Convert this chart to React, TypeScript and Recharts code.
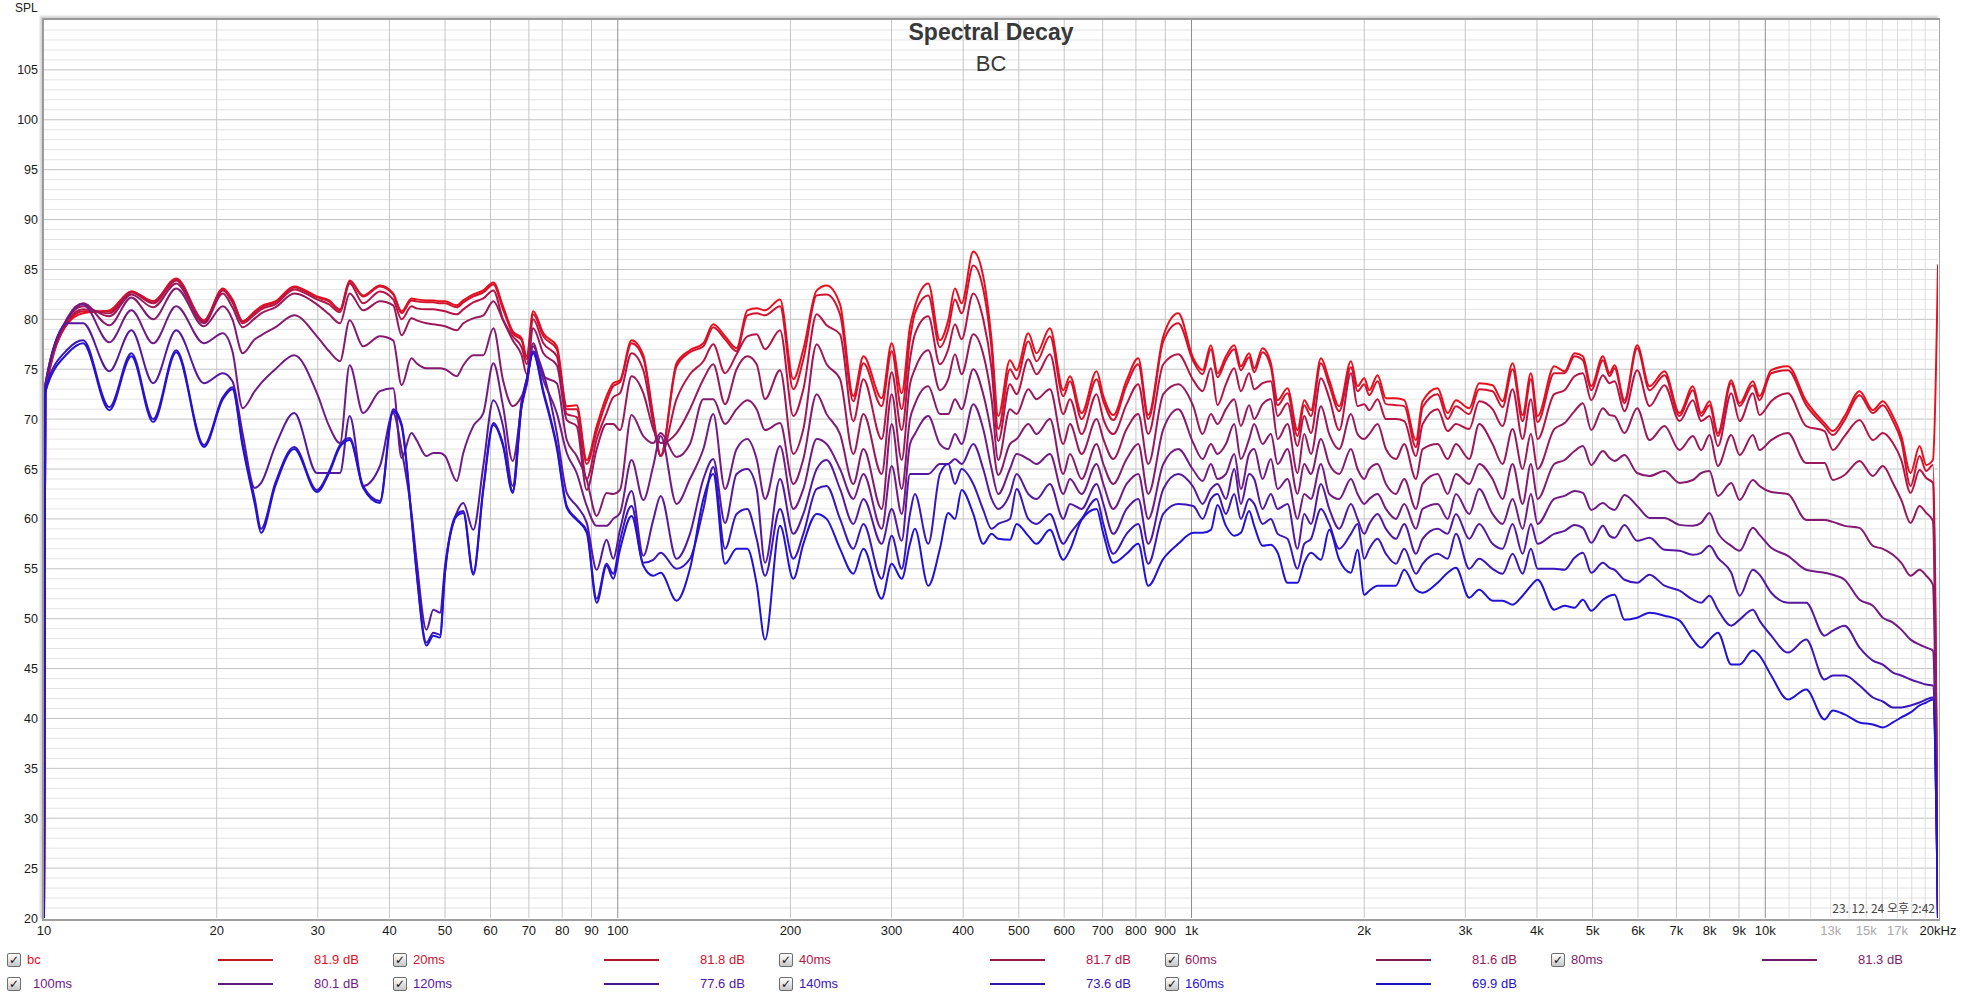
import React from 'react';
import { LineChart, Line, XAxis, YAxis, CartesianGrid } from 'recharts';

const W = 1962;
const H = 1001;
const SANS = "'Liberation Sans', Arial, sans-serif";
const NARROW = "'Liberation Sans Narrow', 'Liberation Sans', Arial, sans-serif";

// frequency points (Hz)
const FREQ = [
  10, 10.05, 11, 11.7, 13, 14.2, 15.5, 17, 19, 20.5,
  21.3, 22.2, 23.3, 23.9, 25.3, 27.3, 29.9, 31.4, 32.8, 34.1,
  36, 38.5, 40.6, 42, 43.7, 44.6, 46.4, 47.7, 49, 50,
  52.4, 53.8, 56, 58.3, 60.7, 63.1, 65.6, 68, 69.4, 71.2,
  74.2, 78.3, 81.5, 84.8, 88.3, 91.9, 95.6, 98.2, 100.9, 105.7,
  110.8, 115.3, 118.8, 126.6, 133.6, 141, 146.7, 153.8, 161.1, 168.2,
  174.6, 180.6, 191.8, 202.3, 210.6, 222.2, 231.2, 244, 257.4, 268,
  288.4, 300.2, 312.5, 323.1, 329.5, 347.7, 364.3, 376.7, 387, 397.5,
  416.5, 433.5, 448.3, 460.4, 482.5, 495.6, 519.4, 537, 566.5, 597.7,
  614, 643.3, 683.2, 702, 730.4, 770.7, 807.6, 840.6, 892.9, 948.2,
  1007, 1045.5, 1081, 1110, 1148, 1187, 1219, 1260, 1286, 1330,
  1375, 1413, 1470, 1530, 1572, 1615, 1681, 1738, 1809, 1896,
  1947, 2000, 2041, 2110, 2182, 2271, 2348, 2461, 2528, 2685,
  2795, 2890, 3048, 3172, 3347, 3484, 3627, 3776, 3904, 4010,
  4287, 4469, 4651, 4810, 4974, 5212, 5354, 5462, 5684, 5980,
  6284, 6673, 7089, 7478, 7732, 7995, 8268, 8723, 9021, 9514,
  9772, 10240, 10950, 11783, 12683, 13114, 13746, 14598, 15400, 16030,
  16690, 17260, 17915, 18575, 19077, 19596, 20000,
];

const BC = [
  20, 72.5, 79.6, 80.6, 80.9, 82.8, 81.8, 84.1, 79.9, 83.1,
  82.0, 79.8, 80.8, 81.3, 81.8, 83.3, 82.3, 81.9, 81.0, 83.9,
  82.4, 83.4, 82.6, 80.8, 82.1, 82.0, 81.9, 81.9, 81.8, 81.8,
  81.4, 81.9, 82.5, 82.9, 83.7, 81.3, 78.8, 78.1, 76.3, 80.8,
  78.6, 77.3, 71.3, 71.4, 65.9, 69.3, 72.3, 73.6, 73.9, 77.9,
  76.4, 70.3, 66.3, 75.6, 76.9, 77.6, 79.5, 78.3, 77.1, 80.9,
  81.1, 80.9, 82.0, 74.0, 77.0, 82.9, 83.4, 81.5, 72.3, 76.3,
  72.1, 77.6, 72.6, 79.3, 81.3, 83.6, 77.9, 79.9, 83.1, 81.6,
  86.8, 84.3, 77.9, 70.3, 75.9, 74.9, 78.6, 76.6, 79.1, 72.9,
  74.3, 70.6, 74.8, 72.3, 70.4, 73.9, 76.1, 70.4, 78.3, 80.6,
  76.1, 74.9, 77.4, 74.6, 76.3, 77.4, 75.3, 76.6, 75.1, 77.1,
  75.6, 71.9, 73.1, 68.9, 71.9, 70.9, 76.1, 73.9, 71.3, 75.8,
  73.3, 74.1, 72.9, 74.4, 72.1, 72.1, 71.9, 67.9, 71.8, 73.1,
  70.6, 71.9, 71.1, 73.6, 73.4, 71.8, 75.6, 70.4, 74.6, 70.3,
  75.3, 74.8, 76.6, 76.3, 73.3, 76.3, 74.6, 75.4, 71.9, 77.4,
  73.3, 74.8, 70.6, 73.3, 70.6, 71.8, 68.6, 73.9, 71.6, 73.8,
  72.3, 74.9, 75.3, 71.8, 69.6, 68.8, 70.3, 72.8, 70.9, 71.8,
  70.3, 68.3, 64.6, 67.3, 65.4, 65.9, 85.5,
];

const MS20 = [
  20, 72.6, 79.7, 80.8, 80.8, 82.8, 81.8, 84.0, 79.8, 83.0,
  81.9, 79.8, 80.7, 81.2, 81.7, 83.2, 82.2, 81.8, 80.9, 83.8,
  82.3, 83.3, 82.5, 80.6, 81.9, 81.8, 81.7, 81.7, 81.6, 81.6,
  81.2, 81.7, 82.3, 82.7, 83.5, 81.0, 78.6, 77.9, 76.0, 80.5,
  78.3, 77.0, 71.0, 71.0, 65.5, 68.8, 71.8, 73.3, 73.7, 77.6,
  76.1, 70.1, 66.3, 75.3, 76.7, 77.3, 79.2, 78.0, 76.8, 80.4,
  80.6, 80.4, 81.3, 73.0, 76.0, 82.4, 82.5, 80.5, 71.8, 75.6,
  71.3, 76.8, 71.0, 78.0, 80.6, 82.4, 77.2, 79.0, 82.0, 80.6,
  85.4, 83.0, 77.0, 69.0, 75.0, 74.0, 77.8, 75.8, 78.3, 72.3,
  73.8, 70.0, 74.0, 71.8, 69.9, 73.4, 75.5, 70.0, 77.8, 79.6,
  75.8, 74.5, 77.0, 74.2, 75.9, 77.0, 74.9, 76.2, 74.7, 76.7,
  75.2, 71.4, 72.6, 68.3, 71.4, 70.3, 75.6, 73.4, 70.8, 75.2,
  72.8, 73.5, 72.4, 73.8, 71.5, 71.4, 71.3, 67.2, 71.2, 72.5,
  70.0, 71.3, 70.5, 73.0, 72.8, 71.2, 75.0, 69.8, 74.0, 69.7,
  74.6, 74.6, 76.3, 75.9, 72.9, 75.9, 74.3, 75.1, 71.6, 77.1,
  72.9, 74.4, 70.3, 72.9, 70.3, 71.4, 68.3, 73.6, 71.3, 73.4,
  71.9, 74.6, 74.9, 71.4, 69.3, 68.4, 69.9, 72.4, 70.6, 71.4,
  69.8, 67.8, 63.3, 66.3, 64.8, 65.4, 20,
];

const MS40 = [
  20, 72.8, 79.9, 81.0, 80.6, 82.7, 81.6, 83.9, 79.7, 82.9,
  81.7, 79.6, 80.5, 81.0, 81.5, 83.0, 82.0, 81.5, 80.7, 83.6,
  81.6, 82.8, 82.0, 80.0, 81.3, 81.1, 81.0, 81.0, 80.9, 80.8,
  80.5, 81.0, 81.7, 82.1, 82.9, 80.0, 78.3, 77.2, 75.5, 80.0,
  77.6, 76.3, 70.5, 70.2, 64.0, 68.0, 70.6, 72.2, 72.6, 76.6,
  74.9, 69.6, 66.3, 72.0, 74.5, 75.8, 77.5, 74.6, 76.5, 78.3,
  78.5, 77.0, 78.9, 70.3, 73.0, 80.5, 79.4, 78.5, 69.8, 74.0,
  68.0, 74.7, 68.9, 76.0, 78.5, 80.3, 75.5, 77.0, 79.5, 78.0,
  82.6, 80.0, 75.0, 67.8, 73.5, 72.5, 76.0, 74.5, 76.5, 70.5,
  72.0, 68.5, 72.5, 70.0, 68.5, 71.5, 73.5, 68.5, 75.5, 76.5,
  73.9, 72.8, 75.1, 71.4, 73.5, 75.1, 72.8, 74.6, 73.0, 73.6,
  73.8, 70.3, 71.6, 67.3, 70.3, 68.6, 74.1, 72.1, 68.9, 74.6,
  71.3, 71.5, 70.9, 72.0, 70.0, 70.0, 69.8, 66.3, 69.5, 71.0,
  68.8, 69.5, 69.0, 71.8, 71.0, 69.3, 73.0, 68.0, 72.0, 68.0,
  72.5, 72.9, 74.3, 74.6, 71.9, 74.4, 73.6, 73.8, 70.8, 74.9,
  71.3, 73.4, 69.8, 71.9, 69.8, 70.3, 67.3, 72.6, 69.8, 72.6,
  70.4, 71.8, 72.6, 69.3, 68.8, 66.9, 68.3, 69.9, 67.9, 68.6,
  67.6, 65.9, 62.6, 64.9, 64.1, 63.6, 20,
];

const MS60 = [
  20, 73.0, 80.1, 81.3, 80.3, 82.5, 81.2, 83.6, 79.6, 82.6,
  81.2, 79.2, 80.1, 80.6, 81.2, 82.6, 81.5, 80.5, 79.6, 82.6,
  80.9, 81.8, 81.4, 78.4, 80.1, 79.9, 79.6, 79.5, 79.4, 79.3,
  78.9, 79.6, 80.1, 80.4, 81.8, 79.9, 77.9, 76.4, 74.5, 79.1,
  76.6, 75.4, 69.9, 69.3, 62.9, 67.0, 69.5, 69.5, 68.9, 74.3,
  72.6, 69.0, 67.6, 68.6, 71.0, 74.0, 75.5, 71.5, 75.0, 76.3,
  75.5, 72.0, 74.9, 66.5, 69.0, 77.5, 75.5, 74.0, 66.5, 70.5,
  64.5, 72.5, 65.9, 73.5, 75.0, 76.9, 72.9, 74.0, 76.5, 74.5,
  78.5, 76.5, 72.0, 65.9, 71.0, 70.5, 73.0, 72.0, 73.0, 67.5,
  69.5, 66.5, 70.0, 68.0, 66.0, 69.0, 70.5, 65.5, 72.5, 73.5,
  71.3, 68.5, 70.5, 69.5, 71.0, 72.0, 69.3, 71.4, 70.0, 71.5,
  72.0, 68.0, 69.5, 64.6, 68.5, 66.5, 71.3, 68.5, 67.0, 70.5,
  68.5, 68.0, 68.5, 69.5, 67.0, 66.0, 67.5, 64.0, 67.0, 67.5,
  66.0, 67.5, 66.0, 69.5, 67.5, 65.5, 69.0, 65.0, 68.5, 65.0,
  69.0, 69.6, 70.8, 71.6, 68.9, 71.1, 70.4, 70.3, 68.6, 71.1,
  67.9, 69.3, 66.9, 68.3, 66.9, 68.4, 65.3, 68.4, 66.4, 68.4,
  66.9, 67.9, 68.6, 65.6, 65.6, 63.9, 64.4, 65.8, 64.3, 65.3,
  63.6, 61.9, 59.6, 61.3, 60.6, 59.8, 20,
];

const MS80 = [
  20, 73.2, 80.2, 81.6, 79.4, 82.2, 80.0, 83.1, 79.3, 81.3,
  80.0, 76.6, 78.0, 78.4, 79.2, 80.4, 78.3, 76.8, 75.8, 79.9,
  77.3, 78.3, 77.9, 73.4, 76.1, 75.6, 75.1, 75.1, 75.1, 75.0,
  74.3, 75.4, 76.4, 76.4, 79.1, 73.9, 71.3, 72.3, 73.5, 77.6,
  74.3, 73.6, 67.9, 66.3, 63.9, 60.3, 62.6, 62.5, 62.9, 70.4,
  68.3, 67.6, 68.6, 66.2, 67.5, 72.0, 72.0, 69.5, 71.0, 71.9,
  71.0, 68.9, 69.6, 63.5, 66.0, 72.5, 70.5, 68.5, 63.5, 67.0,
  61.0, 69.5, 63.0, 70.0, 71.5, 73.3, 70.5, 70.5, 72.0, 71.0,
  75.0, 72.5, 68.5, 64.4, 67.5, 68.0, 69.5, 68.5, 70.0, 64.5,
  66.5, 64.0, 67.5, 65.5, 63.5, 66.0, 67.5, 62.5, 69.0, 71.0,
  67.6, 66.0, 67.5, 66.5, 67.5, 69.5, 66.0, 68.0, 69.5, 67.5,
  68.5, 65.5, 67.0, 62.5, 65.5, 64.5, 68.0, 65.5, 64.5, 67.0,
  65.0, 64.0, 65.0, 65.5, 63.5, 62.5, 64.0, 61.0, 63.5, 64.5,
  62.5, 64.5, 63.5, 65.5, 64.0, 62.0, 65.5, 61.5, 65.5, 62.0,
  65.5, 65.9, 66.8, 67.3, 65.4, 66.8, 66.1, 65.8, 66.4, 64.6,
  64.3, 64.8, 63.6, 63.9, 64.6, 64.8, 62.3, 63.6, 61.9, 63.9,
  63.3, 62.7, 62.5, 59.9, 59.9, 59.7, 59.3, 59.1, 57.3, 57.0,
  56.4, 55.6, 54.3, 54.9, 54.3, 53.4, 20,
];

const MS100 = [
  20, 73.4, 80.1, 81.5, 77.7, 80.9, 77.6, 81.3, 77.6, 78.6,
  76.8, 71.1, 72.8, 73.6, 75.0, 76.4, 72.6, 69.3, 67.6, 75.4,
  70.6, 72.8, 73.1, 66.1, 68.6, 67.9, 66.3, 66.6, 66.6, 66.3,
  63.8, 66.6, 69.3, 70.6, 75.6, 71.3, 65.8, 71.3, 73.5, 77.3,
  73.9, 70.6, 66.6, 64.6, 61.3, 59.3, 59.3, 60.0, 60.6, 65.9,
  61.9, 65.3, 68.3, 61.5, 64.0, 67.0, 70.5, 63.0, 67.0, 68.0,
  66.0, 62.0, 67.3, 61.0, 63.0, 68.0, 67.5, 65.0, 62.0, 64.5,
  59.0, 65.3, 60.5, 67.5, 68.5, 70.3, 67.5, 67.0, 68.5, 67.5,
  71.5, 69.0, 65.0, 62.5, 65.0, 66.5, 66.0, 65.5, 66.5, 62.5,
  64.0, 62.5, 65.5, 63.5, 61.0, 63.5, 64.5, 60.0, 65.5, 67.0,
  64.9, 63.8, 65.5, 64.0, 64.5, 66.5, 63.0, 66.5, 67.0, 64.0,
  66.0, 63.0, 64.0, 60.0, 62.5, 62.0, 65.5, 62.5, 62.0, 64.0,
  62.5, 61.5, 62.0, 62.5, 61.0, 60.0, 61.5, 59.0, 61.0, 61.5,
  60.0, 62.5, 60.5, 63.0, 60.5, 59.5, 62.0, 59.0, 62.5, 59.5,
  62.0, 62.3, 62.8, 62.6, 60.9, 61.6, 61.1, 60.9, 62.4, 61.3,
  60.1, 60.1, 59.4, 59.3, 59.6, 60.6, 58.6, 57.3, 56.8, 59.1,
  58.4, 57.1, 56.3, 54.9, 54.6, 54.4, 53.9, 51.9, 51.3, 50.1,
  49.6, 48.9, 47.9, 47.4, 47.1, 46.8, 20,
];

const MS120 = [
  20, 73.5, 79.6, 79.6, 74.8, 78.9, 73.6, 78.9, 73.6, 74.6,
  73.8, 68.5, 63.1, 63.6, 67.3, 70.6, 64.6, 64.6, 64.6, 70.3,
  63.3, 65.3, 70.6, 66.9, 60.6, 55.9, 48.9, 50.9, 50.6, 55.3,
  60.6, 61.6, 58.9, 65.3, 71.9, 69.3, 63.3, 71.9, 74.0, 76.8,
  74.6, 68.6, 62.6, 61.3, 59.6, 54.9, 57.9, 56.0, 58.9, 62.8,
  56.3, 59.9, 62.3, 56.0, 58.5, 64.0, 66.0, 59.6, 64.5, 65.0,
  63.0, 55.6, 64.0, 58.5, 60.5, 65.0, 65.9, 63.0, 59.5, 62.0,
  57.5, 61.0, 57.8, 64.5, 64.5, 64.5, 65.5, 65.5, 66.0, 65.5,
  67.5, 65.0, 62.0, 61.0, 62.5, 64.5, 62.5, 62.0, 63.5, 60.0,
  61.5, 61.0, 63.5, 61.5, 58.5, 61.0, 62.0, 57.5, 63.0, 64.5,
  63.2, 61.5, 63.0, 63.5, 62.0, 65.0, 61.5, 64.5, 64.0, 61.0,
  62.5, 61.0, 61.5, 57.0, 60.5, 59.5, 63.5, 61.0, 59.0, 61.5,
  60.0, 58.5, 59.5, 60.5, 59.0, 58.0, 59.5, 56.5, 58.0, 59.0,
  58.5, 60.5, 58.0, 59.5, 57.5, 57.0, 59.5, 56.5, 59.5, 57.5,
  58.5, 58.8, 59.4, 59.1, 57.6, 59.3, 58.3, 58.1, 59.4, 57.8,
  58.1, 56.9, 56.8, 56.4, 56.6, 57.3, 56.1, 54.6, 52.3, 54.9,
  54.4, 52.6, 51.6, 51.6, 48.3, 48.8, 49.3, 47.1, 45.8, 45.4,
  44.6, 44.3, 43.9, 43.6, 43.4, 43.3, 20,
];

const MS140 = [
  20, 73.0, 77.0, 77.9, 71.2, 76.6, 70.0, 76.9, 67.4, 72.2,
  73.2, 67.5, 62.0, 59.0, 63.6, 67.2, 62.9, 64.8, 67.4, 68.1,
  63.3, 61.8, 71.0, 69.5, 60.3, 54.8, 47.6, 48.6, 48.4, 54.8,
  60.5, 60.8, 54.6, 63.1, 69.6, 67.5, 62.8, 71.5, 74.0, 76.7,
  72.8, 67.3, 61.3, 60.0, 58.8, 52.0, 55.5, 54.5, 57.8, 61.3,
  55.6, 55.9, 56.6, 55.0, 56.0, 61.0, 65.2, 57.0, 60.5, 61.0,
  58.0, 54.3, 61.0, 56.0, 58.5, 63.0, 63.3, 60.0, 57.0, 59.5,
  54.0, 58.3, 55.0, 60.5, 62.5, 57.5, 64.5, 65.5, 63.5, 65.0,
  63.5, 60.9, 59.0, 59.5, 60.0, 63.0, 60.0, 59.5, 60.5, 57.5,
  58.5, 60.0, 62.0, 59.5, 56.5, 58.5, 59.5, 55.5, 60.5, 61.5,
  61.3, 60.0, 62.0, 62.5, 60.5, 62.5, 60.0, 62.0, 61.5, 59.5,
  60.0, 58.5, 58.0, 55.0, 57.5, 58.0, 61.0, 59.5, 57.0, 58.5,
  59.5, 56.0, 57.0, 58.0, 56.5, 55.5, 57.0, 54.5, 55.5, 56.5,
  56.0, 58.5, 55.0, 56.0, 55.0, 54.5, 56.5, 54.5, 57.0, 55.0,
  55.0, 54.9, 56.1, 56.6, 54.6, 55.6, 55.1, 54.9, 53.9, 53.6,
  54.4, 53.3, 52.8, 51.9, 51.6, 52.3, 50.9, 49.3, 49.9, 50.9,
  49.8, 48.3, 46.6, 47.9, 43.9, 44.3, 44.3, 43.3, 42.1, 41.7,
  41.1, 41.1, 41.3, 41.6, 41.9, 42.1, 20,
];

const MS160 = [
  20, 72.7, 76.6, 77.6, 70.9, 76.3, 69.7, 76.7, 67.2, 72.0,
  73.0, 67.2, 61.5, 58.6, 63.3, 67.0, 62.7, 64.6, 67.2, 67.9,
  63.1, 61.6, 70.8, 69.3, 60.1, 54.6, 47.3, 48.3, 48.1, 54.6,
  60.3, 60.6, 54.4, 62.9, 69.4, 67.3, 62.6, 71.3, 73.8, 76.6,
  72.6, 67.1, 61.1, 59.9, 58.6, 51.6, 55.3, 54.0, 56.9, 60.3,
  55.3, 54.3, 54.6, 51.8, 55.0, 62.0, 64.5, 55.5, 57.0, 57.0,
  53.5, 47.9, 59.3, 54.0, 57.5, 60.5, 60.0, 57.0, 54.5, 57.0,
  52.0, 55.5, 54.0, 57.5, 59.0, 53.3, 57.0, 60.6, 60.0, 62.9,
  60.5, 57.5, 58.5, 58.0, 57.9, 59.5, 58.3, 57.5, 58.9, 55.9,
  56.9, 59.9, 61.0, 58.5, 55.6, 56.5, 57.5, 53.3, 56.0, 57.5,
  58.6, 58.6, 58.9, 61.4, 59.3, 58.3, 58.6, 60.8, 59.3, 57.3,
  57.4, 56.6, 53.6, 53.6, 55.6, 56.6, 55.9, 58.9, 55.9, 54.6,
  56.9, 52.4, 52.8, 53.3, 53.3, 53.3, 54.9, 52.9, 52.6, 53.6,
  54.6, 55.1, 52.1, 52.9, 51.8, 51.8, 51.4, 52.3, 53.3, 53.9,
  50.9, 51.3, 51.1, 51.9, 50.8, 51.9, 52.3, 52.4, 49.9, 50.1,
  50.6, 50.3, 49.8, 47.9, 47.1, 47.9, 48.6, 45.4, 45.4, 46.8,
  46.3, 44.3, 41.9, 42.9, 39.9, 40.8, 40.4, 39.6, 39.4, 39.1,
  39.6, 40.1, 40.6, 41.3, 41.6, 41.9, 20,
];

const SERIES = [
  { key: 'bc', label: 'bc', level: '81.9 dB', color: '#e8101c', legendLine: '#bc1a22', values: BC },
  { key: 'ms20', label: '20ms', level: '81.8 dB', color: '#d2122e', legendLine: '#b0162e', values: MS20 },
  { key: 'ms40', label: '40ms', level: '81.7 dB', color: '#b61446', legendLine: '#981842', values: MS40 },
  { key: 'ms60', label: '60ms', level: '81.6 dB', color: '#9a185c', legendLine: '#801a56', values: MS60 },
  { key: 'ms80', label: '80ms', level: '81.3 dB', color: '#861a70', legendLine: '#701a68', values: MS80 },
  { key: 'ms100', label: '100ms', level: '80.1 dB', color: '#721a86', legendLine: '#5c1a7a', values: MS100 },
  { key: 'ms120', label: '120ms', level: '77.6 dB', color: '#5618a0', legendLine: '#461890', values: MS120 },
  { key: 'ms140', label: '140ms', level: '73.6 dB', color: '#3a16bc', legendLine: '#3016a8', values: MS140 },
  { key: 'ms160', label: '160ms', level: '69.9 dB', color: '#2212d8', legendLine: '#1c12c0', values: MS160 },
];

const X_TICKS = [
  10, 20, 30, 40, 50, 60, 70, 80, 90, 100, 200, 300, 400, 500, 600, 700, 800, 900,
  1000, 2000, 3000, 4000, 5000, 6000, 7000, 8000, 9000, 10000, 13000, 15000, 17000, 20000,
];
const X_LABELS = [
  '10', '20', '30', '40', '50', '60', '70', '80', '90', '100', '200', '300', '400', '500',
  '600', '700', '800', '900', '1k', '2k', '3k', '4k', '5k', '6k', '7k', '8k', '9k', '10k',
  '13k', '15k', '17k', '20kHz',
];
const X_FAINT = [13000, 15000, 17000];
const Y_TICKS = [20, 25, 30, 35, 40, 45, 50, 55, 60, 65, 70, 75, 80, 85, 90, 95, 100, 105];

// grid positions
const GRID_X = [20, 30, 40, 50, 60, 70, 80, 90, 200, 300, 400, 500, 600, 700, 800, 900,
  2000, 3000, 4000, 5000, 6000, 7000, 8000, 9000];
const GRID_X_DECADE = [100, 1000, 10000];
const GRID_X_FINE = [11000, 12000, 13000, 14000, 15000, 16000, 17000, 18000, 19000];
const GRID_Y_MAJOR = [25, 30, 35, 40, 45, 50, 55, 60, 65, 70, 75, 80, 85, 90, 95, 100, 105];
const GRID_Y_MINOR: number[] = [];
for (let v = 21; v < 110; v++) if (v % 5 !== 0) GRID_Y_MINOR.push(v);

const PLOT = { left: 44, top: 20, right: 1938, bottom: 918 };

const XTick = (props: any) => {
  const { x, y, payload } = props;
  const i = X_TICKS.indexOf(payload.value);
  const faint = X_FAINT.includes(payload.value);
  return (
    <text x={x} y={y} dy={17} textAnchor="middle" fontSize={13} fontFamily={NARROW}
      fill={faint ? '#a9a9a9' : '#1a1a1a'}>
      {i >= 0 ? X_LABELS[i] : ''}
    </text>
  );
};

const YTick = (props: any) => {
  const { y, payload } = props;
  return (
    <text x={PLOT.left - 6} y={y} dy={4.5} textAnchor="end" fontSize={12.5} fontFamily={SANS} fill="#1a1a1a">
      {payload.value}
    </text>
  );
};

const Legend = () => {
  const rowY = [959.5, 984];
  return (
    <>
      {SERIES.map((s, i) => {
        const col = i < 5 ? i : i - 5;
        const cy = rowY[i < 5 ? 0 : 1];
        const x0 = 7 + col * 386;
        const nameX = x0 + (s.label === '100ms' ? 26 : 20);
        return (
          <React.Fragment key={s.key}>
            <div style={{
              position: 'absolute', left: x0, top: cy - 7, width: 12, height: 12,
              border: '1px solid #6e6e6e', borderRadius: 2,
              background: 'linear-gradient(#ffffff, #c6c6c6)', color: '#111',
              fontSize: 12, lineHeight: '12px', textAlign: 'center', fontWeight: 'bold',
              fontFamily: "'DejaVu Sans', sans-serif",
            }}>✓</div>
            <div style={{
              position: 'absolute', left: nameX, top: cy - 8, lineHeight: '16px',
              fontSize: 13, fontFamily: SANS, color: s.color, whiteSpace: 'nowrap',
            }}>{s.label}</div>
            <div style={{
              position: 'absolute', left: x0 + 211, top: cy - 1, width: 55, height: 2,
              background: s.legendLine,
            }} />
            <div style={{
              position: 'absolute', left: x0 + 307, top: cy - 8, lineHeight: '16px',
              fontSize: 13, fontFamily: SANS, color: s.color, whiteSpace: 'nowrap',
            }}>{s.level}</div>
          </React.Fragment>
        );
      })}
    </>
  );
};

export default function App() {
  const rows = FREQ.map((f, i) => {
    const r: Record<string, number> = { f };
    SERIES.forEach((s) => { r[s.key] = s.values[i]; });
    return r;
  });

  return (
    <div style={{ position: 'absolute', left: 0, top: 0, width: W, height: H, background: '#fff', overflow: 'hidden' }}>
      {/* plot frame */}
      <div style={{
        position: 'absolute', left: PLOT.left - 2, top: PLOT.top - 2,
        width: PLOT.right - PLOT.left + 1, height: PLOT.bottom - PLOT.top + 1,
        borderLeft: '2px solid #9a9a9a', borderTop: '2px solid #9a9a9a',
        borderRight: '1px solid #a6a6a6', borderBottom: '2px solid #a0a0a0',
        boxShadow: '-2px -2px 2px rgba(0,0,0,0.18)',
      }} />

      <div style={{ position: 'absolute', left: 0, top: 0 }}>
        <LineChart width={W} height={H} data={rows}
          margin={{ top: PLOT.top, right: W - PLOT.right, bottom: H - PLOT.bottom - 30, left: 0 }}>
          <CartesianGrid horizontal vertical={false} horizontalValues={GRID_Y_MINOR} stroke="#e3e3e3" />
          <CartesianGrid horizontal vertical={false} horizontalValues={GRID_Y_MAJOR} stroke="#c3c3c3" />
          <CartesianGrid horizontal={false} vertical verticalValues={GRID_X_FINE} stroke="#dedede" />
          <CartesianGrid horizontal={false} vertical verticalValues={GRID_X} stroke="#c6c6c6" />
          <CartesianGrid horizontal={false} vertical verticalValues={GRID_X_DECADE} stroke="#8e8e8e" />
          <XAxis dataKey="f" type="number" scale="log" domain={[10, 20000]} allowDataOverflow
            ticks={X_TICKS} interval={0} tick={<XTick />} tickLine={false} axisLine={false}
            tickSize={0} tickMargin={0} height={30} />
          <YAxis type="number" domain={[20, 110]} allowDataOverflow ticks={Y_TICKS} interval={0}
            tick={<YTick />} tickLine={false} axisLine={false} tickSize={0} width={PLOT.left} />
          {SERIES.map((s) => (
            <Line key={s.key} dataKey={s.key} type="monotone" stroke={s.color} strokeWidth={2}
              dot={false} activeDot={false} isAnimationActive={false} />
          ))}
        </LineChart>
      </div>

      {/* titles */}
      <div style={{
        position: 'absolute', left: PLOT.left, width: PLOT.right - PLOT.left, top: 20,
        textAlign: 'center', fontFamily: SANS, fontWeight: 'bold', fontSize: 23, lineHeight: '24px', color: '#383838',
      }}>Spectral Decay</div>
      <div style={{
        position: 'absolute', left: PLOT.left, width: PLOT.right - PLOT.left, top: 52,
        textAlign: 'center', fontFamily: SANS, fontSize: 22, lineHeight: '24px', color: '#383838',
      }}>BC</div>

      <div style={{
        position: 'absolute', left: 15, top: 1, fontFamily: SANS, fontSize: 12, lineHeight: '14px', color: '#222',
      }}>SPL</div>

      <div style={{
        position: 'absolute', right: W - 1935, top: 901, fontFamily: "'Noto Sans CJK KR', sans-serif",
        fontSize: 12, lineHeight: '14px', color: '#444', whiteSpace: 'nowrap',
      }}>23. 12. 24 오후 2:42</div>

      <Legend />
    </div>
  );
}
